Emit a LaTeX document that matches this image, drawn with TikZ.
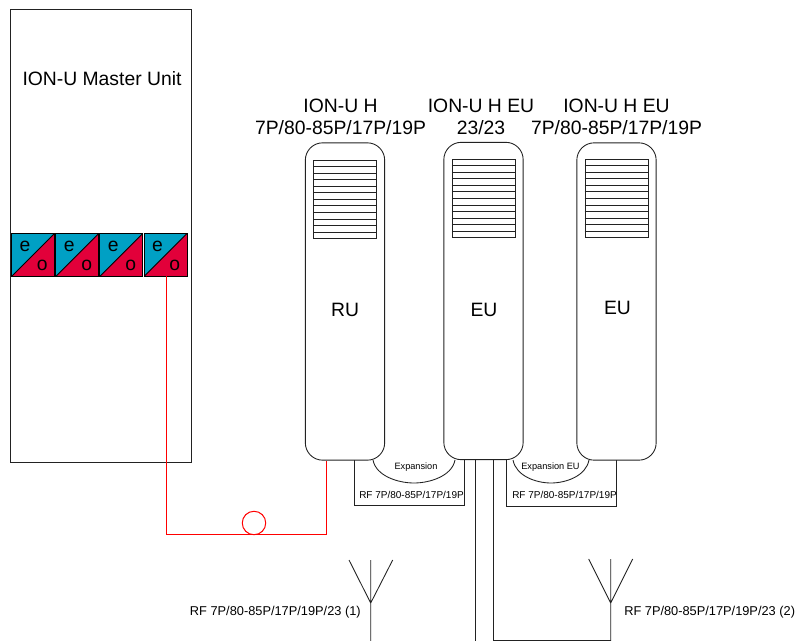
\documentclass[tikz,border=0pt]{standalone}
\usepackage{fontspec}
\setmainfont{Liberation Sans}
\definecolor{eoblue}{HTML}{00A0C4}
\definecolor{eored}{HTML}{E2003A}
\definecolor{linegray}{HTML}{222222}
\tikzset{
  x=0.75pt,y=-0.75pt,
  ln/.style={draw=linegray,line width=0.65pt},
  redln/.style={draw=red,line width=0.75pt},
  unitbox/.style={ln,rounded corners=13pt,minimum width=59.5pt,minimum height=238pt,inner sep=0pt,fill=white},
  vent/.style={ln,minimum width=47.2pt,minimum height=58.5pt,inner sep=0pt},
  title/.style={font=\fontsize{14.5}{16.5}\selectfont,align=center,inner sep=0pt},
  unitlabel/.style={font=\fontsize{14.5}{16.5}\selectfont,inner sep=0pt},
  rflabel/.style={font=\fontsize{7.5}{9}\selectfont,inner sep=0pt},
  antlabel/.style={font=\fontsize{9.6}{11}\selectfont,inner sep=0pt},
  smalllabel/.style={font=\fontsize{6.9}{8}\selectfont,inner sep=0pt},
  eobox/.style={draw=linegray,line width=0.65pt,minimum size=31.5pt,inner sep=0pt},
}
\newcommand{\eounit}[2]{%
  \node[eobox] (#1) at (#2,255) {};
  \fill[eoblue] (#1.north west) -- (#1.north east) -- (#1.south west) -- cycle;
  \fill[eored] (#1.north east) -- (#1.south east) -- (#1.south west) -- cycle;
  \draw[draw=black,line width=0.65pt] (#1.north west) rectangle (#1.south east);
  \draw[draw=black,line width=0.65pt] (#1.north east) -- (#1.south west);
  \node[unitlabel,text=black] (#1e) at ([xshift=-6pt,yshift=6.8pt]#1.center) {e};
  \node[unitlabel,text=black] (#1o) at ([xshift=7pt,yshift=-8pt]#1.center) {o};
}
\newcommand{\ventlines}[1]{%
  \foreach \k in {1,...,11}{
    \draw[ln] ($(#1.north west)!\k/12!(#1.south west)$) -- ($(#1.north east)!\k/12!(#1.south east)$);
  }
}
\usetikzlibrary{calc}
\begin{document}
\begin{tikzpicture}
\useasboundingbox (0,0) rectangle (795,641);
% master
\node[ln,minimum width=135.75pt,minimum height=339.75pt,inner sep=0pt] (master) at (100.5,235.5) {};
\node[title] (mastertitle) at (102,79) {ION-U Master Unit};
\eounit{eoa}{33}
\eounit{eob}{77.3}
\eounit{eoc}{121.3}
\eounit{eod}{165.5}
% connectors below units
\coordinate (cornera) at (166,534.5);
\coordinate (cornerb) at (326.6,534.5);
\node[draw=red,line width=0.75pt,circle,minimum size=17.6pt,inner sep=0pt] (loop) at (254,523) {};
% rf boxes
\coordinate (rfatl) at (354.5,460);
\coordinate (rfabl) at (354.5,505.5);
\coordinate (rfabr) at (464.5,505.5);
\coordinate (rfatr) at (464.5,460);
\coordinate (rfbtl) at (506.5,460);
\coordinate (rfbbl) at (506.5,506.5);
\coordinate (rfbbr) at (616,506.5);
\coordinate (rfbtr) at (616,460);
\draw[ln] (rfatl) -- (rfabl) -- (rfabr) -- (rfatr);
\draw[ln] (rfbtl) -- (rfbbl) -- (rfbbr) -- (rfbtr);
% expansion arcs
\coordinate (expal) at (373,460);
\coordinate (expar) at (455,460);
\coordinate (expbl) at (513,460);
\coordinate (expbr) at (589,460);
\draw[ln,fill=white] (expal) .. controls (376,476) and (398,483) .. (414,483) .. controls (430,483) and (452,476) .. (expar);
\draw[ln,fill=white] (expbl) .. controls (516,476) and (536,483) .. (551,483) .. controls (566,483) and (586,476) .. (expbr);
% units
\node[unitbox] (ru) at (345,301.5) {};
\node[unitbox] (eua) at (483.5,301) {};
\node[unitbox] (eub) at (616.5,301.5) {};
\node[vent] (venta) at (345,199.3) {};
\node[vent] (ventb) at (483.7,198.4) {};
\node[vent] (ventc) at (616.5,198.4) {};
\ventlines{venta}
\ventlines{ventb}
\ventlines{ventc}
\node[unitlabel] (rulabel) at (345,310) {RU};
\node[unitlabel] (eualabel) at (484,310) {EU};
\node[unitlabel] (eublabel) at (617.5,308) {EU};
\node[title] (rutitle) at (340.5,117) {ION-U H\\7P/80-85P/17P/19P};
\node[title] (euatitle) at (481,117) {ION-U H EU\\23/23};
\node[title] (eubtitle) at (616.5,117) {ION-U H EU\\7P/80-85P/17P/19P};
\node[smalllabel] (expalabel) at (416,467) {Expansion};
\node[smalllabel] (expblabel) at (550.5,467) {Expansion EU};
\node[rflabel] (rfalabel) at (411.5,495) {RF 7P/80-85P/17P/19P};
\node[rflabel] (rfblabel) at (564.5,495) {RF 7P/80-85P/17P/19P};
% red link
\draw[redln] (eod.south -| cornera) -- (cornera) -- (cornerb) -- (cornerb |- ru.south);
% feeders
\coordinate (feeda) at (475,641);
\coordinate (feedb) at (493.5,640.8);
\coordinate (ant) at (610.7,640.8);
\draw[ln] (eua.south -| feeda) -- (feeda);
\draw[ln] (eua.south -| feedb) -- (feedb) -- (ant);
% antennas
\coordinate (antaj) at (370.7,603);
\coordinate (antab) at (370.7,641);
\coordinate (antat) at (370.7,560);
\coordinate (antal) at (349,560);
\coordinate (antar) at (392.7,560);
\draw[ln] (antab) -- (antat) (antal) -- (antaj) -- (antar);
\coordinate (antbj) at (610.7,603);
\coordinate (antbt) at (610.7,559);
\coordinate (antbl) at (588.7,559);
\coordinate (antbr) at (632.7,559);
\draw[ln] (ant) -- (antbt) (antbl) -- (antbj) -- (antbr);
\node[antlabel,anchor=east] (rfone) at (361,612) {RF 7P/80-85P/17P/19P/23 (1)};
\node[antlabel,anchor=west] (rftwo) at (624,612) {RF 7P/80-85P/17P/19P/23 (2)};
\end{tikzpicture}
\end{document}
